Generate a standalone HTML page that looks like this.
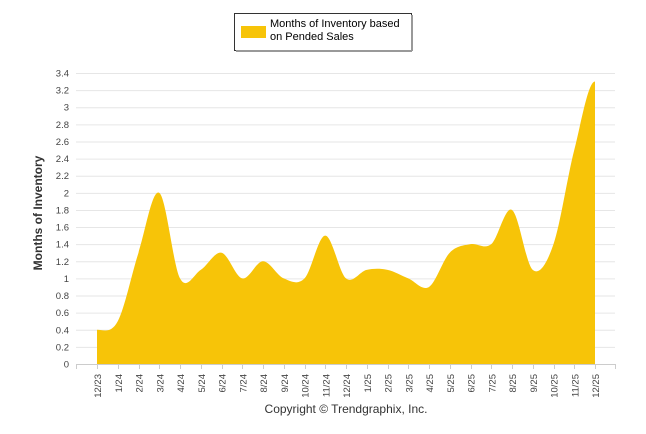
<!DOCTYPE html>
<html><head><meta charset="utf-8"><style>
body{margin:0;background:#fff;font-family:"Liberation Sans",sans-serif}
svg{display:block}
</style></head><body>
<svg width="646" height="434">
<g>
<rect x="234.5" y="13.5" width="177" height="37" fill="#fff" stroke="#333"/>
<line x1="412" y1="15" x2="412" y2="51" stroke="#999" stroke-width="2"/>
<line x1="236" y1="51" x2="412" y2="51" stroke="#999" stroke-width="2"/>
<rect x="241" y="26" width="25" height="12" fill="#f7c408"/>
<text x="270" y="27" font-size="11" fill="#000">Months of Inventory based</text>
<text x="270" y="40" font-size="11" fill="#000">on Pended Sales</text>
</g>
<g id="grid"></g>
<g id="yt"></g>
<path id="area" fill="#f7c408"/>
<g id="xt"></g>
<text transform="translate(42,213) rotate(-90)" text-anchor="middle" font-size="12" font-weight="bold" fill="#333">Months of Inventory</text>
<text x="346" y="413" text-anchor="middle" font-size="12" fill="#333">Copyright © Trendgraphix, Inc.</text>
</svg>
<script>
const categories=["12/23","1/24","2/24","3/24","4/24","5/24","6/24","7/24","8/24","9/24","10/24","11/24","12/24","1/25","2/25","3/25","4/25","5/25","6/25","7/25","8/25","9/25","10/25","11/25","12/25"];
const values=[0.4,0.5,1.3,2.0,1.0,1.1,1.3,1.0,1.2,1.0,1.0,1.5,1.0,1.1,1.1,1.0,0.9,1.3,1.4,1.4,1.8,1.1,1.4,2.5,3.3];
const yTicks=[0,0.2,0.4,0.6,0.8,1,1.2,1.4,1.6,1.8,2,2.2,2.4,2.6,2.8,3,3.2,3.4];
const NS="http://www.w3.org/2000/svg";
const x0=97,dx=(595-97)/(categories.length-1);
const X=i=>x0+i*dx, Y=v=>364-v*(291/3.4);
const grid=document.getElementById('grid'),yt=document.getElementById('yt'),xt=document.getElementById('xt');
yTicks.forEach(t=>{
 const l=document.createElementNS(NS,'line');
 
 
 l.setAttribute('x1',76);l.setAttribute('x2',615);l.setAttribute('y1',Y(t)+.5);l.setAttribute('y2',Y(t)+.5);
 l.setAttribute('stroke',t===0?'#ccc':'#e6e6e6');grid.appendChild(l);
 const s=document.createElementNS(NS,'text');
 
 
 s.setAttribute('x',69);s.setAttribute('y',Y(t)+3.5);s.setAttribute('text-anchor','end');
 s.setAttribute('font-size','9.5');s.setAttribute('fill','#444');s.textContent=t;yt.appendChild(s);
});
[X(-1),...categories.map((c,i)=>X(i)),615].forEach(x=>{
 const l=document.createElementNS(NS,'line');
 
 
 l.setAttribute('x1',Math.round(x)+.5);l.setAttribute('x2',Math.round(x)+.5);l.setAttribute('y1',364);l.setAttribute('y2',369);
 l.setAttribute('stroke','#ccc');xt.appendChild(l);
});
categories.forEach((c,i)=>{
 const s=document.createElementNS(NS,'text');
 
 
 s.setAttribute('transform',`translate(${X(i)+4},374) rotate(-90)`);
 s.setAttribute('text-anchor','end');s.setAttribute('font-size','9.5');s.setAttribute('fill','#444');
 s.textContent=c;xt.appendChild(s);
});
const P=values.map((v,i)=>[X(i),Y(v)]);
let d=`M${P[0][0]},364 L${P[0][0]},${P[0][1]}`;
const sm=1.5;
for(let i=0;i<P.length-1;i++){
 const p0=P[Math.max(i-1,0)],p1=P[i],p2=P[i+1],p3=P[Math.min(i+2,P.length-1)];
 const c1=[p1[0]+dx/3,p1[1]+(p2[1]-p0[1])/(2*sm*1.0)*(i===0?0:1)/ (p2[0]-p0[0])*dx*sm/1.5*1];
 const c2=[p2[0]-dx/3,p2[1]-(p3[1]-p1[1])/(p3[0]-p1[0])*dx/3*(i+1===P.length-1?0:1)];
 c1[1]=p1[1]+(p2[1]-p0[1])/(p2[0]-p0[0])*dx/3*(i===0?0:1);
 d+=` C${c1[0]},${c1[1]} ${c2[0]},${c2[1]} ${p2[0]},${p2[1]}`;
}
d+=` L${P[P.length-1][0]},364 Z`;
document.getElementById('area').setAttribute('d',d);
</script>
</body></html>
